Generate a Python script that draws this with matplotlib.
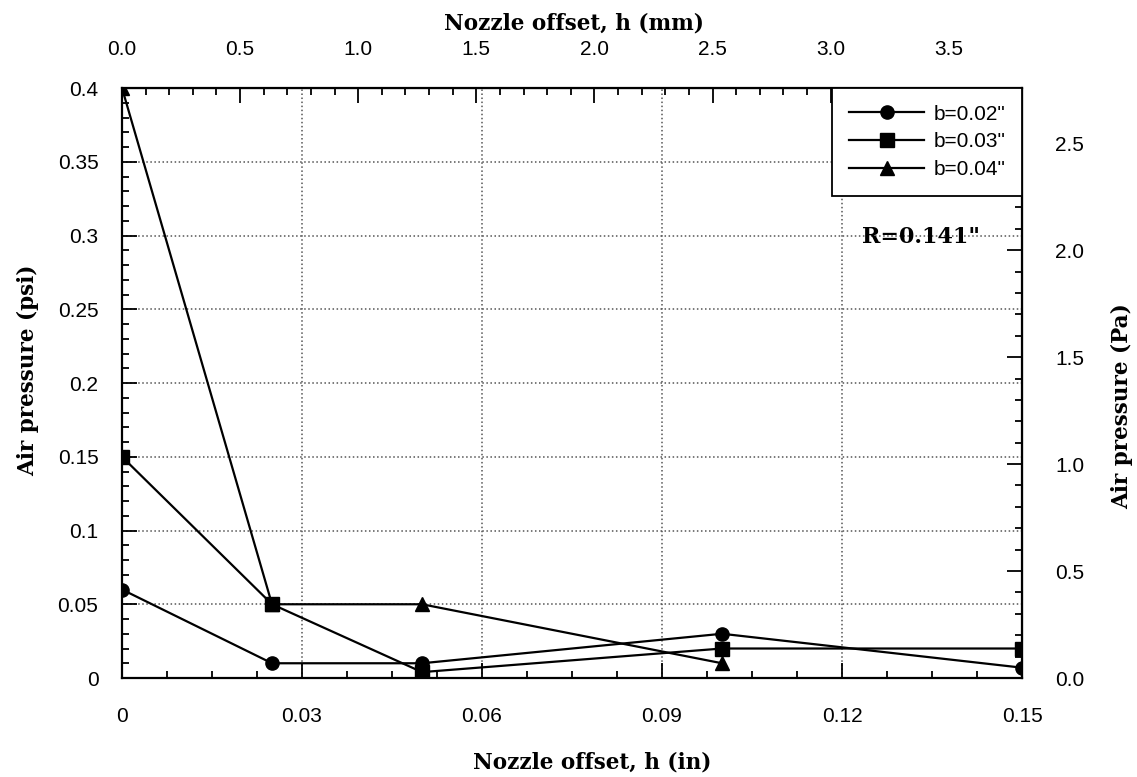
import numpy as np
import matplotlib.pyplot as plt
from matplotlib.ticker import MultipleLocator

# data (offset in inches, pressure in psi)
h_02 = [0, 0.025, 0.05, 0.1, 0.15]
p_02 = [0.06, 0.01, 0.01, 0.03, 0.007]
h_03 = [0, 0.025, 0.05, 0.1, 0.15]
p_03 = [0.15, 0.05, 0.004, 0.02, 0.02]
h_04 = [0, 0.025, 0.05, 0.1]
p_04 = [0.4, 0.05, 0.05, 0.01]
labels = ['b=0.02"', 'b=0.03"', 'b=0.04"']

xticks = [0, 0.03, 0.06, 0.09, 0.12, 0.15]
xticklabels = ['0', '0.03', '0.06', '0.09', '0.12', '0.15']
yticks = [0, 0.05, 0.1, 0.15, 0.2, 0.25, 0.3, 0.35, 0.4]
yticklabels = ['0', '0.05', '0.1', '0.15', '0.2', '0.25', '0.3', '0.35', '0.4']

IN2MM = 25.4
PSI2KPA = 6.894757

serif = ['DejaVu Serif']
sans = ['Liberation Sans', 'DejaVu Sans']
TICK_FS = 15
LAB_FS = 15.5

fig = plt.figure(figsize=(11.37, 7.77), dpi=100)
ax = fig.add_axes([0.1073, 0.1274, 0.7916, 0.7593])

style = dict(color='black', lw=1.6, markersize=9.5)
ax.plot(h_02, p_02, marker='o', label=labels[0], **style)
ax.plot(h_03, p_03, marker='s', label=labels[1], **style)
ax.plot(h_04, p_04, marker='^', label=labels[2], **style)

ax.set_xlim(0, 0.15)
ax.set_ylim(0, 0.4)
ax.set_xticks(xticks)
ax.set_xticklabels(xticklabels)
ax.set_yticks(yticks)
ax.set_yticklabels(yticklabels)
ax.xaxis.set_minor_locator(MultipleLocator(0.0075))
ax.yaxis.set_minor_locator(MultipleLocator(0.01))

ax.grid(True, which='major', linestyle=':', color='#555555', lw=1.1)
for s in ax.spines.values():
    s.set_linewidth(1.6)

ax.tick_params(which='both', direction='in', width=1.3, labelsize=TICK_FS)
ax.tick_params(which='major', length=11)
ax.tick_params(which='minor', length=5)
ax.tick_params(axis='x', pad=21)
ax.tick_params(axis='y', pad=17)
for t in ax.get_xticklabels() + ax.get_yticklabels():
    t.set_family(sans)

ax.set_xlabel('Nozzle offset, h (in)', fontsize=LAB_FS, fontweight='bold',
              family=serif)
ax.xaxis.set_label_coords(0.522, -0.124)
ax.set_ylabel('Air pressure (psi)', fontsize=LAB_FS, fontweight='bold',
              family=serif)
ax.yaxis.set_label_coords(-0.092, 0.522)

# top axis in mm
top = ax.secondary_xaxis('top', functions=(lambda x: x * IN2MM, lambda x: x / IN2MM))
top.xaxis.set_major_locator(MultipleLocator(0.5))
top.xaxis.set_minor_locator(MultipleLocator(0.1))
top.xaxis.set_major_formatter(plt.FormatStrFormatter('%.1f'))
top.tick_params(which='both', direction='in', width=1.3, labelsize=TICK_FS, pad=21)
top.tick_params(which='major', length=11)
top.tick_params(which='minor', length=5)
top.set_xlabel('Nozzle offset, h (mm)', fontsize=LAB_FS, fontweight='bold',
               family=serif)
top.xaxis.set_label_coords(0.502, 1.1, transform=ax.transAxes)
for t in top.get_xticklabels():
    t.set_family(sans)

# right axis in kPa (labelled Pa)
right = ax.secondary_yaxis('right', functions=(lambda y: y * PSI2KPA, lambda y: y / PSI2KPA))
right.yaxis.set_major_locator(MultipleLocator(0.5))
right.yaxis.set_minor_locator(MultipleLocator(0.1))
right.yaxis.set_major_formatter(plt.FormatStrFormatter('%.1f'))
right.tick_params(which='both', direction='in', width=1.3, labelsize=TICK_FS, pad=24)
right.tick_params(which='major', length=11)
right.tick_params(which='minor', length=5)
right.set_ylabel('Air pressure (Pa)', fontsize=LAB_FS, fontweight='bold',
                 family=serif)
right.yaxis.set_label_coords(1.099, 0.46, transform=ax.transAxes)
for t in right.get_yticklabels():
    t.set_family(sans)

# unused offset texts
for a in (ax.xaxis, ax.yaxis, top.xaxis, right.yaxis):
    a.offsetText.set_visible(False)

leg = ax.legend(loc='upper right', borderaxespad=0, fancybox=False,
                edgecolor='black', framealpha=1, handlelength=3.6,
                handletextpad=0.45, prop={'family': sans, 'size': TICK_FS},
                borderpad=0.8, labelspacing=0.42)
leg.get_frame().set_linewidth(1.3)

ax.text(0.1332, 0.299, 'R=0.141"', fontsize=16, fontweight='bold',
        family=serif, ha='center', va='center')

fig.savefig('out.png', dpi=100)
